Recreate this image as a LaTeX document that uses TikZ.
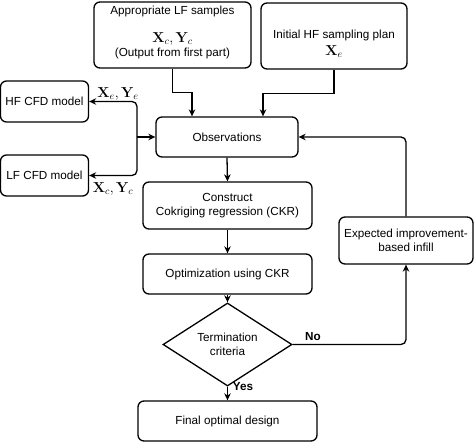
\documentclass[tikz,border=0pt]{standalone}
\usepackage[no-math]{fontspec}
\setmainfont{Liberation Sans}
\usetikzlibrary{shapes.geometric,arrows.meta,positioning}
\tikzset{
  box/.style={draw, line width=1.3pt, rounded corners=6pt, inner sep=0pt, align=center, font=\fontsize{11.7}{14}\selectfont},
  dia/.style={draw, line width=1.3pt, diamond, inner sep=0pt, align=center, font=\fontsize{11.7}{14}\selectfont},
  arr/.style={line width=1.3pt, -{Stealth[length=7pt,width=6.5pt]}},
  lab/.style={inner sep=0pt, font=\fontsize{11.7}{14}\selectfont},
  mlab/.style={inner sep=0pt, font=\fontsize{14.5}{17}\selectfont},
}
\begin{document}
\begin{tikzpicture}[x=1pt,y=-1pt]
\useasboundingbox (0,0) rectangle (474,443);
% boxes
\node[box, minimum width=157pt, minimum height=66pt] (lfs) at (172.5,35) {};
\node[lab] (lfs1) at (172.5,11) {Appropriate LF samples};
\node[mlab] (lfs2) at (172.5,39) {$\mathbf{X}_c,\mathbf{Y}_c$};
\node[lab] (lfs3) at (172.5,53) {(Output from first part)};
\node[box, minimum width=146pt, minimum height=66pt] (hfp) at (334,36) {};
\node[lab] (hfp1) at (334,35) {Initial HF sampling plan};
\node[mlab] (hfp2) at (334,51.5) {$\mathbf{X}_e$};
\node[box, minimum width=88pt, minimum height=41pt] (hf) at (44.5,101.5) {HF CFD model};
\node[box, minimum width=88pt, minimum height=41pt] (lf) at (44.5,175.5) {LF CFD model};
\node[box, minimum width=142pt, minimum height=40pt] (obs) at (227,137) {Observations};
\node[box, minimum width=169pt, minimum height=47pt] (ckr) at (227.5,205.5) {Construct\\Cokriging regression (CKR)};
\node[box, minimum width=169pt, minimum height=40pt] (opt) at (227.5,274) {Optimization using CKR};
\node[dia, minimum width=129pt, minimum height=63pt] (term) at (227.5,344.5) {Termination\\criteria};
\node[box, minimum width=179pt, minimum height=40pt] (fin) at (227.5,421) {Final optimal design};
\node[box, minimum width=134pt, minimum height=47pt] (exp) at (406,240.5) {Expected improvement-\\based infill};
% connectors
\draw[arr] (lfs.south) -- ++(0,24) -| ([xshift=-35pt]obs.north);
\draw[arr] (hfp.south) -- ++(0,24) -| ([xshift=36pt]obs.north);
\coordinate (j) at (137,137);
\draw[arr] (j) -- (obs.west);
\draw[arr, rounded corners=5pt] (j) |- (hf.east);
\draw[arr, rounded corners=5pt] (j) |- (lf.east);
\node[mlab] (le) at (118,94) {$\mathbf{X}_e,\mathbf{Y}_e$};
\node[mlab] (lc) at (113,189) {$\mathbf{X}_c,\mathbf{Y}_c$};
\draw[arr] (obs.south) -- (ckr.north);
\draw[arr] (ckr.south) -- (opt.north);
\draw[arr] (opt.south) -- (term.north);
\draw[arr] (term.south) -- (fin.north);
\node[lab, font=\fontsize{11.7}{14}\selectfont\bfseries] (yes) at (243,387) {Yes};
\draw[arr, rounded corners=5pt] (term.east) -| (exp.south);
\node[lab, font=\fontsize{11.7}{14}\selectfont\bfseries] (no) at (313,337) {No};
\draw[arr, rounded corners=5pt] (exp.north) |- (obs.east);
\end{tikzpicture}
\end{document}
